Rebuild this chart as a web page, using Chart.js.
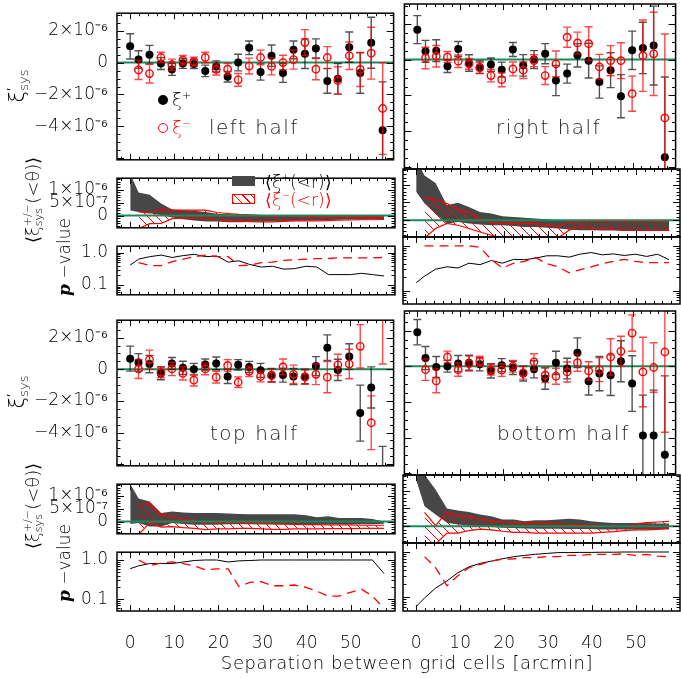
<!DOCTYPE html>
<html>
<head>
<meta charset="utf-8">
<script src="https://cdn.jsdelivr.net/npm/chart.js@4.4.1/dist/chart.umd.min.js"></script>
<style>
body{margin:0;background:#fff;width:681px;height:678px;position:relative;overflow:hidden;font-family:'DejaVu Sans',sans-serif;font-weight:200;color:#000}
canvas{position:absolute}
.t{position:absolute;white-space:nowrap;line-height:1}
.rot{transform:translate(-50%,-50%) rotate(-90deg)}
.st{display:inline-flex;flex-direction:column;vertical-align:middle;font-size:0.62em;line-height:0.95}
.dot{position:absolute;width:10px;height:10px;border-radius:50%;box-sizing:border-box}
</style>
</head>
<body>
<script>
// separation of the grid cells (arcmin)
const sep = [0, 1.9, 4.4, 7.0, 9.5, 12.0, 14.5, 17.1, 19.6, 22.2, 24.6, 27.1, 29.7, 32.2, 34.8, 37.2, 39.8, 42.3, 44.9, 47.3, 49.9, 52.4, 54.9, 57.5];

// xi_sys values in units of 1e-6
const leftXiP    = [1.02, 0.19, 0.50, -0.06, -0.43, -0.06, -0.09, -0.52, -0.24, -0.89, 0.00, 0.93, -0.59, 0.43, -0.65, 0.80, 0.56, 0.89, -1.15, -1.02, 0.97, -0.65, 1.25, -4.24];
const leftXiPErr = [0.79, 0.55, 0.58, 0.37, 0.37, 0.30, 0.28, 0.36, 0.35, 0.33, 0.52, 0.43, 0.51, 0.67, 0.59, 0.56, 0.93, 0.60, 0.77, 0.96, 0.95, 1.27, 1.60, 3.03];
const leftXiM    = [null, -0.46, -0.69, 0.32, -0.13, 0.15, 0.06, 0.32, -0.43, -0.41, -1.08, -0.22, 0.32, -0.24, 0.00, 0.19, 1.26, -0.41, 0.32, -1.12, 0.43, -0.43, 0.59, -2.88];
const leftXiMErr = [null, 0.60, 0.59, 0.33, 0.35, 0.30, 0.28, 0.33, 0.35, 0.35, 0.40, 0.50, 0.46, 0.53, 0.46, 0.60, 0.81, 0.67, 0.68, 0.86, 0.86, 1.07, 1.63, 2.88];

const rightXiP    = [1.67, 0.46, 0.50, -0.37, 0.59, -0.19, -0.43, -0.28, -0.56, 0.56, -0.32, 0.00, 0.33, -1.17, -0.78, 0.24, -0.06, -1.25, -0.59, -2.04, 0.52, 0.65, 0.78, -5.45];
const rightXiPErr = [0.78, 0.61, 0.61, 0.35, 0.42, 0.46, 0.35, 0.37, 0.42, 0.39, 0.60, 0.50, 0.56, 0.84, 0.53, 0.65, 0.97, 0.90, 0.97, 1.20, 1.07, 1.43, 2.20, 4.48];
const rightXiM    = [null, 0.09, 0.19, 0.15, -0.09, -0.24, -0.46, -0.89, -1.12, -0.52, -0.59, -0.06, -0.89, -0.24, 1.25, 0.93, 0.89, -0.41, -0.06, -0.06, -1.90, 0.22, 0.32, -3.25];
const rightXiMErr = [null, 0.60, 0.60, 0.30, 0.35, 0.30, 0.30, 0.35, 0.39, 0.39, 0.46, 0.33, 0.50, 0.72, 0.56, 0.60, 0.94, 0.70, 0.84, 1.00, 0.98, 1.99, 2.32, 4.68];

const topXiP    = [0.67, 0.43, 0.33, -0.26, 0.37, 0.09, 0.00, 0.30, 0.37, -0.45, 0.28, 0.15, -0.07, -0.37, -0.37, -0.46, -0.46, 0.20, 1.36, -0.04, 0.80, -2.77, -1.15, -7.00];
const topXiPErr = [0.79, 0.56, 0.55, 0.40, 0.37, 0.42, 0.37, 0.35, 0.40, 0.45, 0.33, 0.35, 0.44, 0.42, 0.44, 0.51, 0.46, 0.60, 0.81, 0.67, 0.81, 1.77, 1.30, 2.13];
const topXiM    = [null, 0.02, 0.61, -0.19, 0.02, -0.26, -0.69, 0.02, -0.50, 0.24, -0.82, -0.13, -0.45, -0.41, 0.15, -0.32, -0.50, -0.32, -0.50, 0.28, 0.33, 1.45, -3.38, 3.60];
const topXiMErr = [null, 0.60, 0.60, 0.35, 0.42, 0.42, 0.37, 0.37, 0.37, 0.37, 0.33, 0.33, 0.35, 0.42, 0.50, 0.58, 0.45, 0.65, 0.98, 0.67, 0.93, 1.37, 1.70, 3.27];

const botXiP    = [1.91, 0.46, -0.04, 0.00, 0.15, 0.20, 0.11, -0.26, 0.06, -0.09, -0.41, -0.17, -0.69, 0.19, -0.13, 0.76, -0.84, -0.41, -0.50, 0.28, -0.97, -3.88, -3.88, -4.96];
const botXiPErr = [0.71, 0.65, 0.59, 0.33, 0.45, 0.42, 0.37, 0.40, 0.37, 0.37, 0.42, 0.48, 0.60, 0.65, 0.58, 0.83, 0.77, 0.96, 1.14, 1.15, 1.56, 2.26, 2.54, 4.42];
const botXiM    = [null, -0.19, -0.82, 0.52, -0.19, 0.15, 0.28, -0.19, -0.22, 0.00, -0.37, 0.24, -0.50, -0.56, -0.32, 0.20, -0.26, -0.19, 0.52, 0.84, 1.86, -0.32, -0.07, 0.80];
const botXiMErr = [null, 0.60, 0.67, 0.33, 0.37, 0.42, 0.28, 0.30, 0.35, 0.33, 0.35, 0.46, 0.42, 0.45, 0.56, 0.48, 0.51, 0.67, 1.02, 0.84, 1.02, 1.95, 1.39, 4.50];

// cumulative <xi(<r)> bands, upper / lower edge, units of 1e-6
const leftCumPHi = [1.60, 0.89, 0.80, 0.47, 0.23, 0.21, 0.19, 0.14, 0.07, 0.05, 0.03, 0.03, 0.02, 0.02, 0.02, 0.02, 0.01, 0.01, 0.01, 0.00, 0.00, 0.00, 0.00, 0.00];
const leftCumPLo = [0.20, 0.14, 0.09, 0.02, -0.07, -0.14, -0.19, -0.23, -0.23, -0.26, -0.26, -0.25, -0.23, -0.22, -0.21, -0.20, -0.19, -0.18, -0.17, -0.16, -0.15, -0.15, -0.14, -0.14];
const leftCumMHi = [null, 0.14, 0.10, 0.23, 0.21, 0.21, 0.21, 0.21, 0.12, 0.08, 0.05, 0.03, 0.00, -0.02, -0.02, -0.03, -0.04, -0.05, -0.06, -0.06, -0.06, -0.06, -0.06, -0.05];
const leftCumMLo = [null, -0.50, -0.31, -0.30, -0.12, -0.10, -0.10, -0.10, -0.17, -0.19, -0.20, -0.23, -0.24, -0.24, -0.22, -0.20, -0.20, -0.20, -0.19, -0.18, -0.17, -0.16, -0.16, -0.15];

const rightCumPHi = [1.70, 1.26, 1.05, 0.42, 0.49, 0.37, 0.23, 0.19, 0.11, 0.09, 0.07, 0.05, 0.03, 0.00, -0.02, -0.03, -0.03, -0.04, -0.04, -0.05, -0.05, -0.05, -0.05, -0.05];
const rightCumPLo = [0.80, 0.47, 0.19, -0.09, -0.05, -0.09, -0.12, -0.14, -0.14, -0.16, -0.19, -0.19, -0.21, -0.23, -0.26, -0.28, -0.28, -0.29, -0.29, -0.30, -0.30, -0.30, -0.30, -0.30];
const rightCumMHi = [null, 0.64, 0.58, 0.47, 0.30, 0.23, 0.05, -0.07, -0.09, -0.09, -0.09, -0.09, -0.12, -0.17, -0.05, -0.03, -0.03, -0.03, -0.03, -0.03, -0.03, -0.03, -0.03, -0.03];
const rightCumMLo = [null, -0.50, -0.23, -0.09, -0.14, -0.23, -0.33, -0.42, -0.50, -0.50, -0.50, -0.50, -0.50, -0.50, -0.28, -0.19, -0.23, -0.23, -0.26, -0.28, -0.28, -0.28, -0.28, -0.28];

const topCumPHi = [1.45, 0.89, 0.77, 0.33, 0.39, 0.35, 0.33, 0.33, 0.33, 0.31, 0.29, 0.28, 0.28, 0.28, 0.28, 0.28, 0.24, 0.17, 0.21, 0.14, 0.14, 0.14, 0.10, 0.00];
const topCumPLo = [-0.09, -0.05, -0.19, -0.19, -0.05, -0.09, -0.12, -0.12, -0.12, -0.10, -0.10, -0.10, -0.10, -0.10, -0.10, -0.10, -0.10, -0.10, -0.10, -0.10, -0.10, -0.10, -0.10, -0.08];
const topCumMHi = [null, 0.66, 0.70, 0.28, 0.19, 0.09, 0.05, -0.02, -0.05, -0.05, -0.05, -0.07, -0.08, -0.09, -0.10, -0.11, -0.12, -0.12, -0.13, -0.13, -0.13, -0.14, -0.14, -0.14];
const topCumMLo = [null, -0.50, -0.05, -0.21, -0.19, -0.23, -0.26, -0.31, -0.28, -0.28, -0.26, -0.26, -0.28, -0.30, -0.30, -0.28, -0.28, -0.28, -0.27, -0.27, -0.27, -0.26, -0.26, -0.26];

const botCumPHi = [1.60, 1.45, 1.03, 0.50, 0.44, 0.40, 0.33, 0.28, 0.19, 0.19, 0.14, 0.17, 0.17, 0.19, 0.21, 0.19, 0.14, 0.11, 0.09, 0.09, 0.09, 0.09, 0.08, 0.08];
const botCumPLo = [1.31, 0.56, 0.33, 0.10, 0.05, 0.02, 0.00, -0.02, -0.04, -0.05, -0.06, -0.07, -0.07, -0.07, -0.08, -0.08, -0.08, -0.09, -0.09, -0.09, -0.09, -0.09, -0.09, -0.09];
const botCumMHi = [null, 0.39, 0.02, 0.40, 0.30, 0.28, 0.20, 0.16, 0.12, 0.10, 0.09, 0.09, 0.08, 0.07, 0.05, 0.05, 0.03, 0.02, 0.01, 0.00, 0.07, 0.10, 0.12, 0.14];
const botCumMLo = [null, -0.50, -0.50, -0.19, -0.19, -0.12, -0.08, -0.10, -0.14, -0.17, -0.17, -0.19, -0.19, -0.19, -0.19, -0.19, -0.19, -0.17, -0.15, -0.12, -0.10, -0.10, -0.09, -0.05];

// p-values
const leftPvP  = [0.41, 0.63, 0.75, 0.84, 0.71, 0.81, 0.89, 0.75, 0.79, 0.51, 0.56, 0.43, 0.36, 0.38, 0.31, 0.32, 0.38, 0.36, 0.21, 0.21, 0.21, 0.23, 0.21, 0.19];
const leftPvM  = [null, 0.49, 0.40, 0.40, 0.53, 0.63, 0.75, 0.84, 0.75, 0.75, 0.40, 0.41, 0.49, 0.51, 0.58, 0.60, 0.63, 0.65, 0.66, 0.69, 0.69, 0.69, 0.69, 0.71];
const rightPvP = [0.15, 0.21, 0.30, 0.34, 0.32, 0.41, 0.38, 0.47, 0.41, 0.50, 0.49, 0.53, 0.60, 0.60, 0.56, 0.65, 0.71, 0.63, 0.66, 0.61, 0.65, 0.58, 0.65, 0.49];
const rightPvM = [null, 1.0, 1.0, 1.0, 1.0, 1.0, 0.93, 0.49, 0.32, 0.41, 0.45, 0.55, 0.40, 0.34, 0.25, 0.29, 0.34, 0.40, 0.45, 0.50, 0.45, 0.42, 0.42, 0.42];
const topPvP   = [0.60, 0.71, 0.81, 0.81, 0.81, 0.89, 0.97, 1.0, 1.0, 0.89, 0.95, 0.97, 1.0, 1.0, 1.0, 1.0, 1.0, 1.0, 1.0, 1.0, 1.0, 1.0, 1.0, 0.45];
const topPvM   = [null, 1.0, 0.71, 0.84, 0.89, 0.81, 0.71, 0.56, 0.59, 0.59, 0.21, 0.27, 0.28, 0.22, 0.22, 0.23, 0.20, 0.16, 0.12, 0.12, 0.15, 0.18, 0.12, 0.058];
const botPvP   = [0.063, 0.097, 0.16, 0.23, 0.35, 0.47, 0.56, 0.63, 0.71, 0.79, 0.84, 0.89, 0.93, 0.97, 0.97, 0.98, 0.98, 0.99, 0.99, 1.0, 1.0, 1.0, 1.0, 1.0];
const botPvM   = [null, 0.79, 0.45, 0.18, 0.30, 0.45, 0.53, 0.63, 0.69, 0.71, 0.75, 0.75, 0.79, 0.79, 0.84, 0.84, 0.89, 0.89, 0.89, 0.91, 0.84, 0.89, 0.81, 0.79];

// tick labels
const xTickVals = [0, 10, 20, 30, 40, 50];
const xTickLabels = ['0', '10', '20', '30', '40', '50'];
const mainTickVals = [-4, -2, 0, 2];
const mainTickLabels = ['\u22124\u00d710\u207b\u2076', '\u22122\u00d710\u207b\u2076', '0', '2\u00d710\u207b\u2076'];
const cumTickVals = [0, 0.5, 1];
const cumTickLabels = ['0', '5\u00d710\u207b\u2077', '1\u00d710\u207b\u2076'];
const pTickVals = [0.1, 1];
const pTickLabels = ['0.1', '1.0'];

const FONT = "'DejaVu Sans', sans-serif";
const RED = '#ff0000';
const GREEN = '#1a8a5c';

Chart.defaults.font.family = FONT;
Chart.defaults.font.weight = '200';
Chart.defaults.color = '#000';

// minor tick marks for the frame
function steps(a, b, d) { const out = []; for (let v = a; v <= b + 1e-9; v += d) out.push(+v.toFixed(4)); return out; }
const tickSets = {
  x: { major: xTickVals, minor: steps(-2, 60, 2) },
  main: { major: [-6, -4, -2, 0, 2], minor: steps(-6, 3, 0.5) },
  cum: { major: [0, 0.5, 1], minor: steps(-0.4, 1.4, 0.1) },
  p: { major: [0.1, 1], minor: [0.05, 0.06, 0.07, 0.08, 0.09, 0.2, 0.3, 0.4, 0.5, 0.6, 0.7, 0.8, 0.9] }
};

const frameTicks = {
  id: 'frameTicks',
  afterDraw(chart, args, opts) {
    const { ctx, chartArea: a, scales } = chart;
    const ys = tickSets[opts.kind], xs = tickSets.x;
    ctx.save();
    ctx.strokeStyle = '#000';
    ctx.lineWidth = 1;
    ctx.beginPath();
    const xt = (v, len) => {
      const px = Math.round(scales.x.getPixelForValue(v)) + 0.5;
      if (px < a.left || px > a.right) return;
      ctx.moveTo(px, a.top); ctx.lineTo(px, a.top + len);
      ctx.moveTo(px, a.bottom); ctx.lineTo(px, a.bottom - len);
    };
    const yt = (v, len) => {
      const py = Math.round(scales.y.getPixelForValue(v)) + 0.5;
      if (py < a.top || py > a.bottom) return;
      ctx.moveTo(a.left, py); ctx.lineTo(a.left + len, py);
      ctx.moveTo(a.right, py); ctx.lineTo(a.right - len, py);
    };
    xs.minor.forEach(v => xt(v, 3));
    xs.major.forEach(v => xt(v, 6));
    ys.minor.forEach(v => yt(v, 3.5));
    ys.major.forEach(v => yt(v, 7));
    ctx.stroke();
    ctx.lineWidth = 1.5;
    ctx.strokeRect(a.left, a.top, a.right - a.left, a.bottom - a.top);
    ctx.restore();
  }
};

function drawZero(chart) {
  const { ctx, chartArea: a, scales } = chart;
  const py = scales.y.getPixelForValue(0);
  ctx.save();
  ctx.strokeStyle = GREEN;
  ctx.lineWidth = 2;
  ctx.beginPath(); ctx.moveTo(a.left, py); ctx.lineTo(a.right, py); ctx.stroke();
  ctx.restore();
}
const zeroLine = {
  id: 'zeroLine',
  beforeDatasetsDraw(chart, args, opts) { if (opts.when === 'before') drawZero(chart); },
  afterDatasetsDraw(chart, args, opts) { if (opts.when === 'after') drawZero(chart); }
};

const errorBars = {
  id: 'errorBars',
  beforeDatasetDraw(chart, args) {
    const ds = chart.data.datasets[args.index];
    if (!ds.errors) return;
    const { ctx, chartArea: a, scales } = chart;
    ctx.save();
    ctx.beginPath(); ctx.rect(a.left, a.top, a.right - a.left, a.bottom - a.top); ctx.clip();
    ctx.strokeStyle = ds.errColor;
    ctx.lineWidth = 1.4;
    ctx.beginPath();
    ds.data.forEach((p, i) => {
      if (p.y == null) return;
      const e = ds.errors[i];
      const px = scales.x.getPixelForValue(p.x);
      const y1 = scales.y.getPixelForValue(p.y + e);
      const y2 = scales.y.getPixelForValue(p.y - e);
      ctx.moveTo(px, y1); ctx.lineTo(px, y2);
      ctx.moveTo(px - 4, y1); ctx.lineTo(px + 4, y1);
      ctx.moveTo(px - 4, y2); ctx.lineTo(px + 4, y2);
    });
    ctx.stroke();
    ctx.restore();
  }
};

function hatch() {
  const c = document.createElement('canvas');
  c.width = c.height = 9;
  const g = c.getContext('2d');
  g.strokeStyle = RED; g.lineWidth = 1;
  g.beginPath();
  g.moveTo(-1, -1); g.lineTo(10, 10);
  g.moveTo(-1, 8); g.lineTo(1, 10);
  g.moveTo(8, -1); g.lineTo(10, 1);
  g.stroke();
  return g.createPattern(c, 'repeat');
}
const hatchFill = hatch();

const pts = arr => sep.map((x, i) => ({ x: x, y: arr[i] }));

function mainSets(xp, xpErr, xm, xmErr) {
  return [
    { data: pts(xm), errors: xmErr, errColor: 'rgba(255,0,0,0.72)', showLine: false, pointRadius: 3.7,
      pointBorderWidth: 1.4, pointBorderColor: RED, pointBackgroundColor: 'rgba(0,0,0,0)', order: 1 },
    { data: pts(xp), errors: xpErr, errColor: 'rgba(0,0,0,0.68)', showLine: false, pointRadius: 4,
      pointBorderWidth: 0, pointBackgroundColor: '#000', pointBorderColor: '#000', order: 2 }
  ];
}
function cumSets(pHi, pLo, mHi, mLo) {
  return [
    { data: pts(mHi), fill: '+1', backgroundColor: hatchFill, borderColor: RED, borderWidth: 1.2, pointRadius: 0, order: 1 },
    { data: pts(mLo), fill: false, borderColor: RED, borderWidth: 1.2, pointRadius: 0, order: 1 },
    { data: pts(pHi), fill: '+1', backgroundColor: '#474747', borderColor: 'rgba(0,0,0,0)', borderWidth: 0, pointRadius: 0, order: 2 },
    { data: pts(pLo), fill: false, borderColor: 'rgba(0,0,0,0)', borderWidth: 0, pointRadius: 0, order: 2 }
  ];
}
function pSets(pvP, pvM) {
  return [
    { data: pts(pvM), borderColor: RED, borderWidth: 1.3, borderDash: [9, 6], pointRadius: 0, fill: false, order: 1 },
    { data: pts(pvP), borderColor: '#000', borderWidth: 1, pointRadius: 0, fill: false, order: 2 }
  ];
}

// one chart per panel
function panel(col, y0, y1, kind, datasets, withX) {
  const cv = document.createElement('canvas');
  const left = col === 0 ? 0 : 399;
  const w = col === 0 ? 399 : 282;
  const padT = 10, padB = withX ? 0 : 10, xH = withX ? 45 : 0;
  cv.width = w;
  cv.height = (y1 - y0) + padT + padB + xH;
  cv.style.left = left + 'px';
  cv.style.top = (y0 - padT) + 'px';
  document.body.appendChild(cv);

  const yCfg = {
    main: { type: 'linear', min: -6.1, max: 3.1, vals: mainTickVals, labels: mainTickLabels },
    cum: { type: 'linear', min: -0.47, max: 1.44, vals: cumTickVals, labels: cumTickLabels },
    p: { type: 'logarithmic', min: 0.05, max: 1.58, vals: pTickVals, labels: pTickLabels }
  }[kind];

  new Chart(cv, {
    type: 'line',
    data: { datasets },
    options: {
      responsive: false, animation: false, devicePixelRatio: 1,
      layout: { padding: { left: col === 0 ? 0 : 4, right: col === 0 ? 4 : 1, top: padT, bottom: padB } },
      elements: { line: { tension: 0 } },
      plugins: {
        legend: { display: false }, tooltip: { enabled: false },
        frameTicks: { kind },
        zeroLine: { when: kind === 'main' ? 'before' : (kind === 'cum' ? 'after' : 'none') }
      },
      scales: {
        x: {
          type: 'linear', min: -3, max: 60, display: withX,
          afterBuildTicks: s => { s.ticks = xTickVals.map(v => ({ value: v })); },
          afterFit: s => { s.height = withX ? xH : 0; s.paddingLeft = 0; s.paddingRight = 0; },
          grid: { display: false, drawTicks: false }, border: { display: false },
          ticks: { autoSkip: false, maxRotation: 0, padding: 22, font: { size: 17, weight: '200' },
                   callback: (v, i) => xTickLabels[i] }
        },
        y: {
          type: yCfg.type, min: yCfg.min, max: yCfg.max, display: col === 0,
          afterBuildTicks: s => { s.ticks = yCfg.vals.map(v => ({ value: v })); },
          afterFit: s => { s.width = col === 0 ? 117 : 0; },
          grid: { display: false, drawTicks: false }, border: { display: false },
          ticks: { autoSkip: false, padding: 9, font: { size: 17, weight: '200' },
                   callback: (v, i) => yCfg.labels[i] }
        }
      }
    },
    plugins: [errorBars, zeroLine, frameTicks]
  });
}

// panel boxes (page pixels)
const blocks = [
  { main: [4, 169], cum: [169, 237], p: [237, 304] },
  { main: [311, 475], cum: [475, 543], p: [543, 611] }
];
const halves = [
  [ { xp: leftXiP, xpe: leftXiPErr, xm: leftXiM, xme: leftXiMErr, cph: leftCumPHi, cpl: leftCumPLo, cmh: leftCumMHi, cml: leftCumMLo, pvp: leftPvP, pvm: leftPvM },
    { xp: rightXiP, xpe: rightXiPErr, xm: rightXiM, xme: rightXiMErr, cph: rightCumPHi, cpl: rightCumPLo, cmh: rightCumMHi, cml: rightCumMLo, pvp: rightPvP, pvm: rightPvM } ],
  [ { xp: topXiP, xpe: topXiPErr, xm: topXiM, xme: topXiMErr, cph: topCumPHi, cpl: topCumPLo, cmh: topCumMHi, cml: topCumMLo, pvp: topPvP, pvm: topPvM },
    { xp: botXiP, xpe: botXiPErr, xm: botXiM, xme: botXiMErr, cph: botCumPHi, cpl: botCumPLo, cmh: botCumMHi, cml: botCumMLo, pvp: botPvP, pvm: botPvM } ]
];

blocks.forEach((b, r) => {
  [0, 1].forEach(col => {
    const h = halves[r][col];
    panel(col, b.main[0], b.main[1], 'main', mainSets(h.xp, h.xpe, h.xm, h.xme), false);
    panel(col, b.cum[0], b.cum[1], 'cum', cumSets(h.cph, h.cpl, h.cmh, h.cml), false);
    panel(col, b.p[0], b.p[1], 'p', pSets(h.pvp, h.pvm), r === 1);
  });
});

// text labels
function txt(html, x, y, css) {
  const d = document.createElement('div');
  d.className = 't';
  d.innerHTML = html;
  d.style.left = x + 'px';
  d.style.top = y + 'px';
  if (css) d.style.cssText += css;
  document.body.appendChild(d);
  return d;
}
const rot = (html, x, y, size) => txt(html, x, y, 'font-size:' + size + 'px').classList.add('rot');

[0, 306].forEach(dy => {
  rot('\u03be<span class="st"><span>\u2032</span><span>sys</span></span>', 18, 86 + dy, 21);
  rot('\u27e8\u03be<span class="st"><span>+/\u2212</span><span>sys</span></span>(&lt;\u03b8)\u27e9', 34, 200 + dy, 18);
  rot('<i style="font-weight:700;font-family:\'DejaVu Serif\'">p</i> \u2212value', 64, 257 + dy, 17);
});

// legend in upper left panel
const d1 = document.createElement('div'); d1.className = 'dot';
d1.style.cssText += 'left:158px;top:95px;background:#000';
document.body.appendChild(d1);
txt('\u03be<sup style="font-size:0.6em">+</sup>', 172, 91, 'font-size:18px');
const d2 = document.createElement('div'); d2.className = 'dot';
d2.style.cssText += 'left:158px;top:123px;border:1.4px solid #f00';
document.body.appendChild(d2);
txt('\u03be<sup style="font-size:0.6em">\u2212</sup>', 172, 119, 'font-size:18px;color:#f00');

txt('left half', 209, 117, 'font-size:20px;letter-spacing:1.5px;color:#222');
txt('right half', 496, 117, 'font-size:20px;letter-spacing:1.5px;color:#222');
txt('top half', 210, 423, 'font-size:20px;letter-spacing:1.5px;color:#222');
txt('bottom half', 497, 423, 'font-size:20px;letter-spacing:1.5px;color:#222');

// legend of the cumulative panel
txt('', 232, 176, 'width:23px;height:10px;background:#474747');
txt('', 232, 194, 'width:21px;height:8px;border:1px solid #f00;background:repeating-linear-gradient(45deg,#f00 0 1px,transparent 1px 6px)');
txt('\u27e8\u03be<sup style="font-size:0.6em">+</sup>(&lt;r)\u27e9', 265, 173, 'font-size:17px');
txt('\u27e8\u03be<sup style="font-size:0.6em">\u2212</sup>(&lt;r)\u27e9', 265, 191, 'font-size:17px;color:#f00');

// x axis title
txt('Separation between grid cells [arcmin]', 407, 654, 'font-size:18px;letter-spacing:0.6px;transform:translateX(-50%)');
</script>
</body>
</html>
